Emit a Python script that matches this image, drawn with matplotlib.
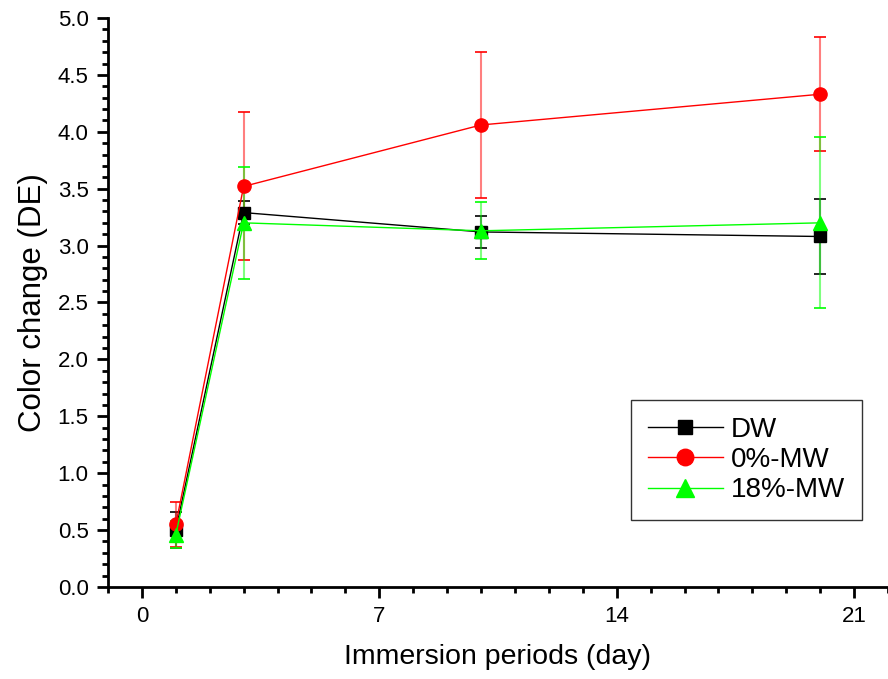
import matplotlib.pyplot as plt
from matplotlib.ticker import MultipleLocator, FormatStrFormatter

# Immersion periods (day)
days = [1, 3, 10, 20]

# Color change (DE) means and standard deviations
dw = [0.50, 3.29, 3.12, 3.08]
dw_err = [0.16, 0.10, 0.14, 0.33]
mw0 = [0.55, 3.52, 4.06, 4.33]
mw0_err = [0.20, 0.65, 0.64, 0.50]
mw18 = [0.46, 3.20, 3.13, 3.20]
mw18_err = [0.12, 0.49, 0.25, 0.75]

labels = ['DW', '0%-MW', '18%-MW']

plt.rcParams['font.family'] = ['Liberation Sans', 'DejaVu Sans']

fig = plt.figure(figsize=(8.88, 6.79), dpi=100)
ax = fig.add_axes([0.1216, 0.1355, 0.8784, 0.838])

series = [
    (dw, dw_err, 'black', 's', 8.5),
    (mw0, mw0_err, 'red', 'o', 9.5),
    (mw18, mw18_err, '#00ff00', '^', 10),
]
for (vals, errs, col, mk, ms), lab in zip(series, labels):
    ax.errorbar(days, vals, yerr=errs, fmt='none', ecolor=col, elinewidth=1.5,
                alpha=0.5, capsize=0, zorder=2)
    ax.errorbar(days, vals, yerr=errs, fmt='none', ecolor=col, elinewidth=0,
                capsize=4.5, capthick=1.2, zorder=2)
    ax.plot(days, vals, color=col, marker=mk, markersize=ms, linewidth=1,
            label=lab, zorder=3)

ax.set_xlim(-1, 22)
ax.set_ylim(0, 5)
ax.xaxis.set_major_locator(MultipleLocator(7))
ax.xaxis.set_minor_locator(MultipleLocator(1))
ax.yaxis.set_major_locator(MultipleLocator(0.5))
ax.yaxis.set_minor_locator(MultipleLocator(0.1))
ax.yaxis.set_major_formatter(FormatStrFormatter('%.1f'))

for s in ['top', 'right']:
    ax.spines[s].set_visible(False)
for s in ['left', 'bottom']:
    ax.spines[s].set_linewidth(2)

ax.tick_params(axis='both', which='major', direction='out', length=8, width=2,
               labelsize=16, pad=6)
ax.tick_params(axis='both', which='minor', direction='out', length=4.5, width=2)

ax.set_xlabel('Immersion periods (day)', fontsize=20.5, labelpad=12)
ax.set_ylabel('Color change (DE)', fontsize=22.5, labelpad=7)

leg = ax.legend(loc='lower right', bbox_to_anchor=(0.9667, 0.1178),
                borderaxespad=0, fontsize=20, markerscale=1.25,
                frameon=True, fancybox=False, edgecolor='black',
                handlelength=2.7, borderpad=0.6, labelspacing=0.15,
                handletextpad=0.3)
leg.get_frame().set_linewidth(1)

fig.savefig('out.png', dpi=100)
